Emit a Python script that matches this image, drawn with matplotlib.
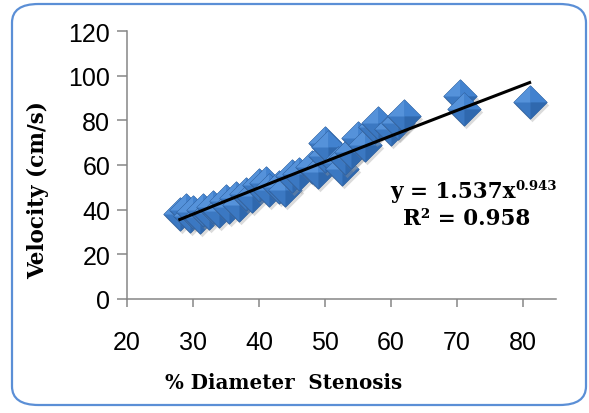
import matplotlib
matplotlib.use('Agg')
import matplotlib.pyplot as plt
import matplotlib.transforms as mtransforms
from matplotlib.patches import FancyBboxPatch
from matplotlib.path import Path
import numpy as np

# % diameter stenosis vs peak velocity (cm/s)
stenosis = [28, 29, 29.5, 30, 31, 31.5, 32.5, 33, 34, 35, 35.5, 36.5, 37, 38,
            39, 40, 41, 41.5, 43, 44, 45, 46, 48, 49, 50, 50, 50.5, 52, 52.5,
            53, 54, 55, 56, 57.5, 58, 60, 61, 62, 70.5, 71, 81]
velocity = [38, 40, 37, 39, 36.5, 40, 38.5, 41, 39.5, 44, 41, 45, 42, 47,
            46, 51, 52, 49, 50, 49, 55, 56, 59, 57, 64, 70, 68, 61, 58,
            63, 66, 72, 69, 77, 79, 76, 79, 82, 91, 85, 88]

# power-law fit y = a * x^b
fit_a, fit_b = 1.537, 0.943
fit_r2 = 0.958

x_ticks = [20, 30, 40, 50, 60, 70, 80]
y_ticks = [0, 20, 40, 60, 80, 100, 120]

# bevelled diamond marker pieces
diamond = Path([(0, 1), (1, 0), (0, -1), (-1, 0), (0, 1)], closed=True)
facet_tl = Path([(-1, 0), (0, 1), (0, 0), (-1, 0)], closed=True)
facet_tr = Path([(0, 1), (1, 0), (0, 0), (0, 1)], closed=True)
facet_br = Path([(1, 0), (0, -1), (0, 0), (1, 0)], closed=True)

fig = plt.figure(figsize=(5.89, 4.14), dpi=100)
ax = fig.add_axes([0.2156, 0.2754, 0.7284, 0.6473])

shadow = mtransforms.offset_copy(ax.transData, fig=fig, x=2, y=-3, units='dots')
ms = 24
for i, (x, y) in enumerate(zip(stenosis, velocity)):
    z = 2 + i * 0.01
    ax.plot(x, y, marker=diamond, ms=ms, color='#9a9a9a', alpha=0.35,
            markeredgewidth=0, transform=shadow, zorder=z)
    ax.plot(x, y, marker=diamond, ms=ms, color='#3b78c2',
            markeredgecolor='#2d5e9c', markeredgewidth=0.6, zorder=z + 0.002)
    ax.plot(x, y, marker=facet_tl, ms=ms, color='#5592da',
            markeredgewidth=0, zorder=z + 0.003)
    ax.plot(x, y, marker=facet_tr, ms=ms, color='#4282cf',
            markeredgewidth=0, zorder=z + 0.004)
    ax.plot(x, y, marker=facet_br, ms=ms, color='#2f68ae',
            markeredgewidth=0, zorder=z + 0.005)

xf = np.linspace(min(stenosis), max(stenosis), 200)
ax.plot(xf, fit_a * xf ** fit_b, color='black', lw=2.2, zorder=10)

ax.set_xlim(20, 85)
ax.set_ylim(0, 120)
ax.set_xticks(x_ticks)
ax.set_yticks(y_ticks)
ax.tick_params(axis='both', colors='#868686', labelcolor='black',
               labelsize=18, width=1.1, direction='out')
ax.tick_params(axis='x', length=6, pad=16)
ax.tick_params(axis='y', length=7, pad=5)
for lab in ax.get_xticklabels() + ax.get_yticklabels():
    lab.set_family('Liberation Sans')

for side in ('top', 'right'):
    ax.spines[side].set_visible(False)
for side in ('left', 'bottom'):
    ax.spines[side].set_color('#868686')
    ax.spines[side].set_linewidth(1.1)

fig.text(0.064, 0.54, 'Velocity (cm/s)', rotation=90, ha='center', va='center',
         family='DejaVu Serif', fontweight='bold', fontsize=15.5)
fig.text(0.481, 0.075, '% Diameter  Stenosis', ha='center', va='center',
         family='DejaVu Serif', fontweight='bold', fontsize=14.3)

# fit equation with superscript exponent
eq = fig.text(390 / 589, 1 - 198 / 414, 'y = 1.537x', ha='left', va='baseline',
              family='DejaVu Serif', fontweight='bold', fontsize=15.5)
fig.canvas.draw()
bb = eq.get_window_extent()
fig.text(bb.x1 / fig.bbox.width, (1 - 190 / 414), f'{fit_b}', ha='left',
         va='baseline', family='DejaVu Serif', fontweight='bold', fontsize=9.5)
fig.text(467 / 589, 1 - 225 / 414, f'R² = {fit_r2}', ha='center', va='baseline',
         family='DejaVu Serif', fontweight='bold', fontsize=15.5)

# rounded chart border
border = FancyBboxPatch((12 / 589, 8 / 414), 574 / 589, 401 / 414,
                        boxstyle='round,pad=0,rounding_size=0.045',
                        transform=fig.transFigure, fill=False,
                        edgecolor='#5b8fd6', linewidth=1.6, zorder=0)
fig.patches.append(border)

fig.savefig('out.png', dpi=100)
